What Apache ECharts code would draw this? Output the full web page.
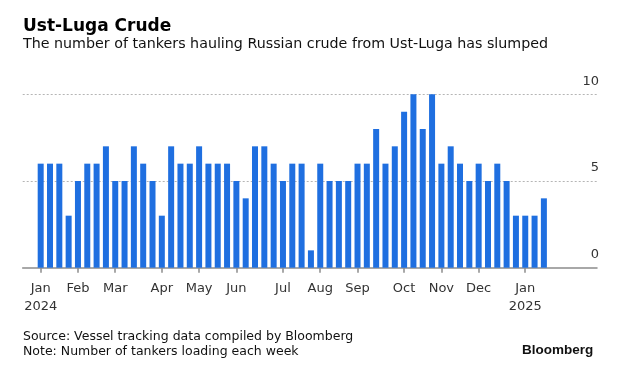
<!DOCTYPE html>
<html>
<head>
<meta charset="utf-8">
<script src="https://cdn.jsdelivr.net/npm/echarts@6/dist/echarts.min.js"></script>
<style>
html,body{margin:0;padding:0;background:#fff;}
#chart{width:620px;height:381px;}
</style>
</head>
<body>
<div id="chart"></div>
<script>
// Weekly tankers loading at Ust-Luga, week of 1 Jan 2024 onward
var tankers = [6,6,6,3,5,6,6,7,5,5, 7,6,5,3,7,6,6,7,6,6, 6,5,4,7,7,6,5,6,6,1, 6,5,5,5,6,6,8,6,7,9, 10,8,10,6,7,6,5,6,5,6, 5,3,3,3,4];
// Week index holding the 1st of each month, with its label
var tickWeeks = [0,4,8,13,17,21,26,30,34,39,43,47,52];
var tickLabels = ['Jan\n2024','Feb','Mar','Apr','May','Jun','Jul','Aug','Sep','Oct','Nov','Dec','Jan\n2025'];

var FONT = 'DejaVu Sans';
var chart = echarts.init(document.getElementById('chart'), null, {renderer:'canvas'});
var option = {
  backgroundColor:'#fff',
  animation:false,
  title:[
    {text:'Ust-Luga Crude', left:23, top:18, padding:0, textStyle:{fontFamily:FONT, fontSize:17, fontWeight:'bold', color:'#000'}},
    {text:'The number of tankers hauling Russian crude from Ust-Luga has slumped', left:23, top:37, padding:0, textStyle:{fontFamily:FONT, fontSize:14.25, fontWeight:'normal', color:'#111'}},
    {text:'Source: Vessel tracking data compiled by Bloomberg\nNote: Number of tankers loading each week', left:23, top:329, padding:0, textStyle:{fontFamily:FONT, fontSize:12.5, fontWeight:'normal', color:'#111', lineHeight:15}},
    {text:'Bloomberg', left:522, top:343, padding:0, textStyle:{fontFamily:'Liberation Sans', fontSize:13.5, fontWeight:'bold', color:'#111'}}
  ],
  grid:{left:22.7, right:23, top:94.3, bottom:113.3, containLabel:false},
  xAxis:{
    type:'value', min:-1.93, max:59.7,
    axisLine:{show:true, lineStyle:{color:'#8c8c8c', width:1.5}},
    axisTick:{show:true, customValues:tickWeeks, length:5, lineStyle:{color:'#8c8c8c', width:1.5}},
    axisLabel:{show:true, customValues:tickWeeks, margin:12, fontFamily:FONT, fontSize:13, color:'#333', lineHeight:18,
      formatter:function(v){ var i = tickWeeks.indexOf(Math.round(v)); return i>=0 ? tickLabels[i] : ''; }},
    splitLine:{show:false}
  },
  yAxis:{
    type:'value', position:'right', min:0, max:10, interval:5,
    axisLine:{show:false}, axisTick:{show:false},
    axisLabel:{inside:true, margin:-2, align:'right', verticalAlign:'bottom', padding:[0,0,6,0], lineHeight:14, fontFamily:FONT, fontSize:13, color:'#333'},
    splitLine:{show:true, lineStyle:{type:[2,2], color:'#b5b5b5', width:1}, showMinLine:false}
  },
  series:[{
    type:'bar', barWidth:6,
    itemStyle:{color:'#1f6fe0'},
    data:tankers.map(function(v,i){return [i,v];})
  }]
};
chart.setOption(option);
</script>
</body>
</html>
